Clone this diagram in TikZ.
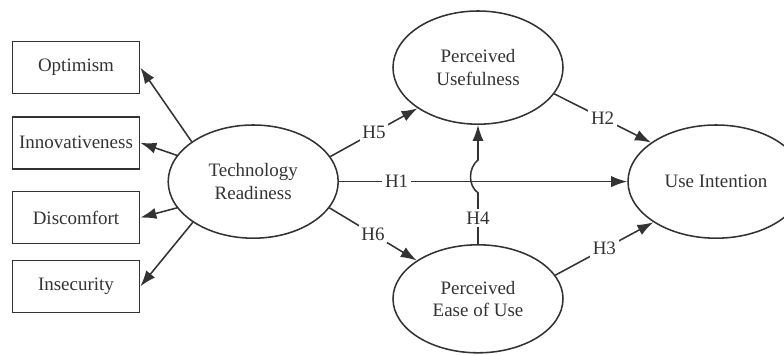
\documentclass[tikz,border=0pt]{standalone}
\usepackage{fontspec}
\setmainfont{Liberation Serif}
\usetikzlibrary{arrows.meta,shapes.geometric}

\begin{document}
\begin{tikzpicture}[>={Latex[length=4mm,width=2.8mm]}, line width=1.1pt, color=black!80,
	font=\fontsize{13.5}{16}\selectfont,
	item/.style={draw, rectangle, minimum width=3.18cm, minimum height=1.3cm, inner sep=0pt},
	construct/.style={draw, ellipse, minimum width=4.25cm, minimum height=2.83cm, inner sep=0pt, align=center},
	hyp/.style={fill=white, inner sep=2pt}]
			\useasboundingbox (0,0) rectangle (19.6,8.85);
			\node [item] (opt) at (1.9,7.16) {Optimism};
			\node [item] (inno) at (1.9,5.28) {Innovativeness};
			\node [item] (disc) at (1.9,3.41) {Discomfort};
			\node [item] (insec) at (1.9,1.69) {Insecurity};
			\node [construct] (tr) at (6.33,4.31) {Technology\\Readiness};
			\node [construct] (pu) at (11.95,7.16) {Perceived\\Usefulness};
			\node [construct, minimum height=2.7cm] (peu) at (11.95,1.38) {Perceived\\Ease of Use};
			\node [construct, minimum width=4.4cm] (ui) at (17.9,4.31) {Use Intention};
			\coordinate (hopa) at (11.95,4.03);
			\coordinate (hopb) at (11.95,4.85);
			\draw [->] (tr.147) -- (opt.east);
			\draw [->] (tr.161) -- (inno.east);
			\draw [->] (tr.199) -- (disc.east);
			\draw [->] (tr.214) -- (insec.east);
			\draw [->] (tr.18) -- node [hyp] {H5} (pu.214);
			\draw [->] (pu.341) -- node [hyp] {H2} (ui.149);
			\draw [->] (tr.east) -- node [hyp, pos=0.2] {H1} (ui.west);
			\draw [->] (tr.341) -- node [hyp] {H6} (peu.148);
			\draw [->] (peu.17) -- node [hyp] {H3} (ui.213);
			\draw [->] (peu.north) -- node [hyp] {H4} (hopa) .. controls (11.7,4.2) and (11.7,4.65) .. (hopb) -- (pu.south);
\end{tikzpicture}
\end{document}
